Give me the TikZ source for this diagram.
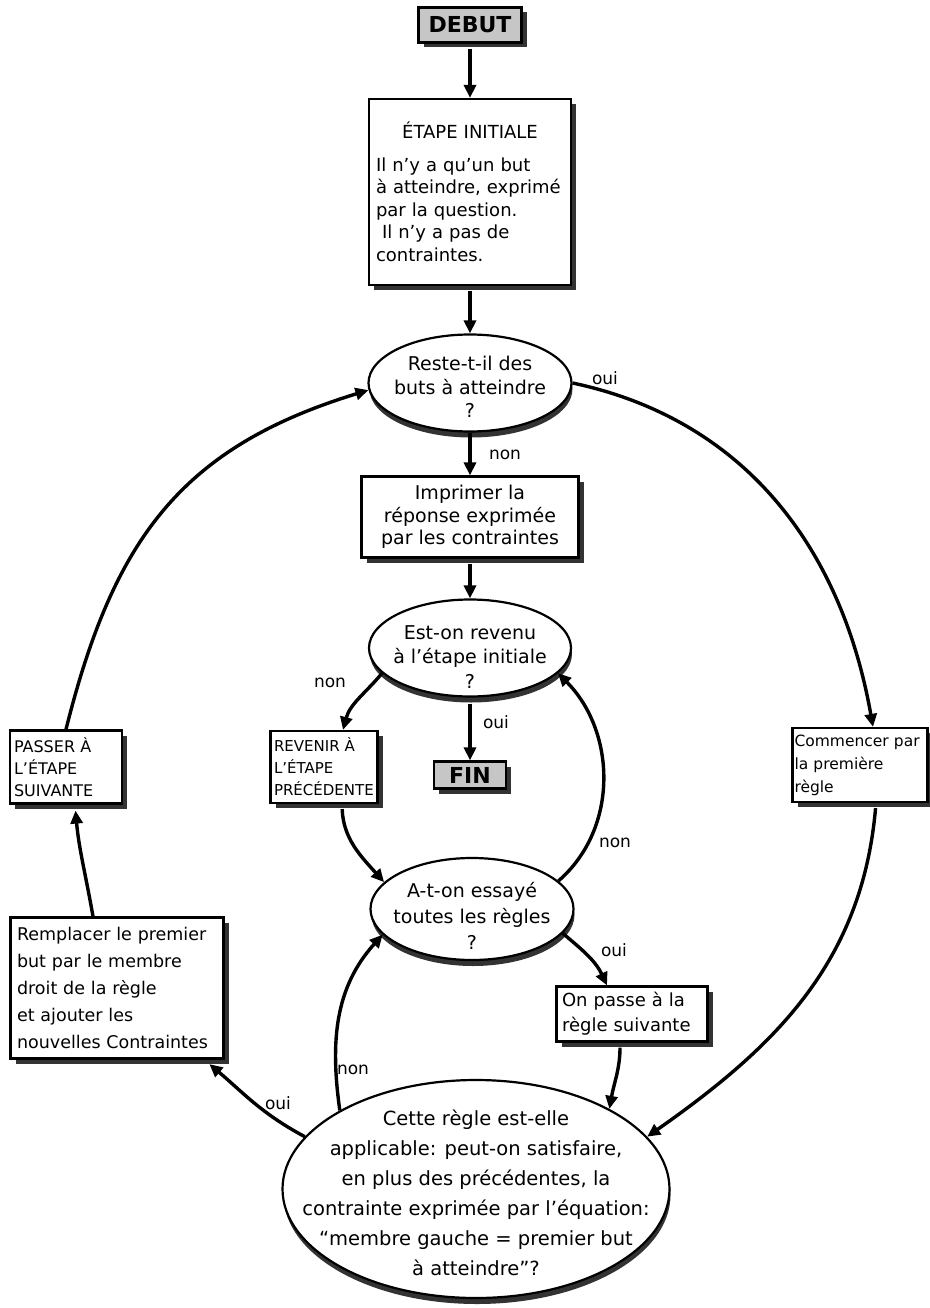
\documentclass[tikz,border=0pt]{standalone}
\usepackage{fontspec}
\setmainfont{DejaVu Sans}
\usetikzlibrary{shapes.geometric,arrows.meta,shadows}

\tikzset{
  box/.style={draw, line width=2.2pt, fill=white, rectangle, inner sep=0pt,
    drop shadow={shadow xshift=5pt, shadow yshift=-5pt, fill=black!80, opacity=1}},
  dark/.style={box, fill=gray!45},
  ell/.style={draw, ellipse, line width=2.2pt, fill=white, inner sep=0pt,
    drop shadow={shadow xshift=1pt, shadow yshift=-6pt, fill=black!80, opacity=1}},
  conn/.style={line width=3.4pt, -{Triangle[length=13pt,width=12pt]}},
  lbl/.style={font=\fontsize{17}{20}\selectfont, inner sep=0pt},
  txt/.style={align=center, inner sep=0pt},
}

\begin{document}
\begin{tikzpicture}[x=1pt,y=-1pt]
\useasboundingbox[fill=white] (0,0) rectangle (929,1308);

% ---------- boxes ----------
\node[dark, minimum width=103pt, minimum height=35pt, font=\fontsize{22}{24}\selectfont\bfseries] (debut) at (470,25) {DEBUT};

\node[box, minimum width=202pt, minimum height=186pt, text width=188pt, align=left,
      font=\fontsize{18}{22.5}\selectfont] (init) at (470,192)
  {\makebox[188pt]{ÉTAPE INITIALE}\\[10pt]
   Il n'y a qu'un but\\ à atteindre, exprimé\\ par la question.\\ \ Il n'y a pas de\\ contraintes.};

\node[box, minimum width=217pt, minimum height=81pt, align=center,
      font=\fontsize{19}{22.5}\selectfont] (impr) at (470,517)
  {Imprimer la\\ réponse exprimée\\ par les contraintes};

\node[box, minimum width=107pt, minimum height=72pt, text width=100pt, align=left,
      font=\fontsize{15}{22}\selectfont] (rev) at (324,767)
  {REVENIR À\\ L'ÉTAPE\\ PRÉCÉDENTE};

\node[dark, minimum width=72pt, minimum height=27pt, font=\fontsize{22}{24}\selectfont\bfseries] (fin) at (470,775) {FIN};

\node[box, minimum width=112pt, minimum height=73pt, text width=104pt, align=left,
      font=\fontsize{16}{22}\selectfont] (pass) at (66,767)
  {PASSER À\\ L'ÉTAPE\\ SUIVANTE};

\node[box, minimum width=135pt, minimum height=74pt, text width=131pt, align=left,
      font=\fontsize{15.5}{23}\selectfont] (com) at (860,765)
  {Commencer par\\ la première\\ règle};

\node[box, minimum width=213pt, minimum height=141pt, text width=200pt, align=left,
      font=\fontsize{17.5}{27}\selectfont] (rem) at (117,988)
  {Remplacer le premier\\ but par le membre\\ droit de la règle\\ et ajouter les\\ nouvelles Contraintes};

\node[box, minimum width=151pt, minimum height=55pt, text width=140pt, align=left,
      font=\fontsize{18}{25}\selectfont] (onp) at (632,1014)
  {On passe à la\\ règle suivante};

% ---------- ellipses ----------
\node[ell, minimum width=203pt, minimum height=97pt] (e1) at (470,383) {};
\node[txt, font=\fontsize{19}{23.5}\selectfont] (e1t) at (470,387) {Reste-t-il des\\ buts à atteindre\\ ?};

\node[ell, minimum width=202pt, minimum height=97pt] (e2) at (470,648) {};
\node[txt, font=\fontsize{19}{24.5}\selectfont] (e2t) at (470,657) {Est-on revenu\\ à l'étape initiale\\ ?};

\node[ell, minimum width=203pt, minimum height=102pt] (e3) at (472,909) {};
\node[txt, font=\fontsize{19}{26}\selectfont] (e3t) at (472,916) {A-t-on essayé\\ toutes les règles\\ ?};

\node[ell, minimum width=387pt, minimum height=218pt] (e4) at (476,1189) {};
\node[txt, font=\fontsize{19.5}{30}\selectfont] (e4t) at (476,1193)
  {Cette règle est-elle\\ applicable: peut-on satisfaire,\\ en plus des précédentes, la\\
   contrainte exprimée par l'équation:\\ “membre gauche = premier but\\ à atteindre”?};

% ---------- straight connectors ----------
\draw[conn, shorten <=5pt] (debut.south) -- (init.north);
\draw[conn, shorten <=5pt] (init.south) -- (e1.north);
\draw[conn] (e1.south) -- (impr.north);
\draw[conn, shorten <=5pt] (impr.south) -- (e2.north);
\draw[conn, shorten <=6pt] (e2.south) -- (fin.north);

% ---------- outer loop ----------
\draw[conn] (e1.east) to[out=-12, in=100] ([xshift=13pt]com.north);
\draw[conn, shorten <=5pt] ([xshift=16pt]com.south) to[out=-95, in=35] (e4.17);
\draw[conn, shorten >=7pt] (e4.163) to[out=152, in=-40] ([xshift=87pt]rem.south);
\draw[conn, shorten >=6pt] ([xshift=-24pt]rem.north) to[out=100, in=-85] ([xshift=9pt]pass.south);
\draw[conn] (pass.north) to[out=76, in=197, looseness=1.1] (e1.184);

% ---------- inner loop ----------
\draw[conn] (e2.196) to[out=-130, in=75] ([xshift=19pt]rev.north);
\draw[conn, shorten <=5pt] ([xshift=18pt]rev.south) to[out=-88, in=132] (e3.163);
\draw[conn] (e4.150) to[out=98, in=228] (e3.196);
\draw[conn] (e3.18) to[out=41, in=-45] (e2.-16);
\draw[conn] (e3.-15) to[out=-40, in=115] ([xshift=-25pt]onp.north);
\draw[conn, shorten <=5pt] ([xshift=-12pt]onp.south) to[out=-90, in=80] (e4.31);

% ---------- labels ----------
\node[lbl] (l1) at (605,378) {oui};
\node[lbl] (l2) at (505,455) {non};
\node[lbl] (l3) at (330,683) {non};
\node[lbl] (l4) at (496,722) {oui};
\node[lbl] (l5) at (615,843) {non};
\node[lbl] (l6) at (614,950) {oui};
\node[lbl] (l7) at (353,1070) {non};
\node[lbl] (l8) at (278,1103) {oui};
\end{tikzpicture}
\end{document}
